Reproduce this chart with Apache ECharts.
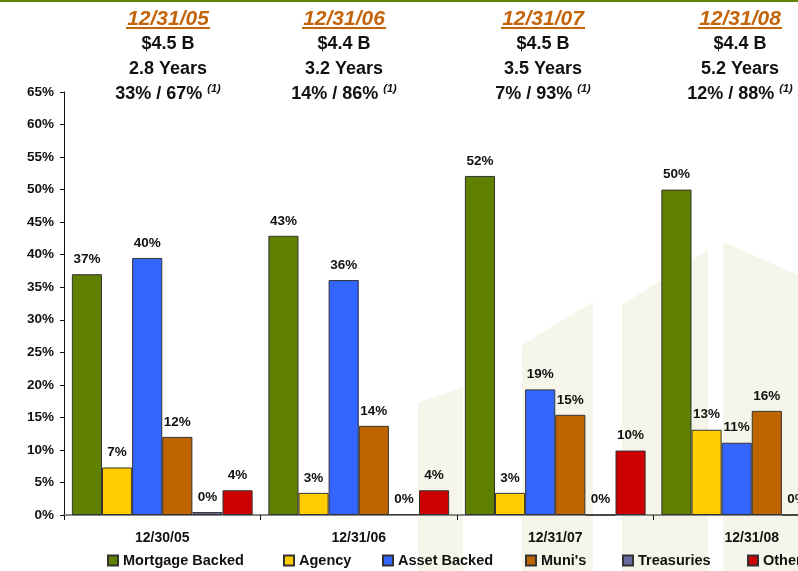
<!DOCTYPE html>
<html>
<head>
<meta charset="utf-8">
<script src="https://cdn.jsdelivr.net/npm/echarts@6/dist/echarts.min.js"></script>
<style>
  html, body { margin: 0; padding: 0; background: #fff; }
  #chart { width: 798px; height: 571px; }
</style>
</head>
<body>
<div id="chart"></div>
<script>
// data (bar heights in %)
const categories = ['12/30/05', '12/31/06', '12/31/07', '12/31/08'];
const mortgageBacked = [37.0, 42.9, 52.1, 50.0];
const agency = [7.3, 3.4, 3.4, 13.1];
const assetBacked = [39.5, 36.1, 19.3, 11.1];
const munis = [12.0, 13.7, 15.4, 16.0];
const treasuries = [0.45, 0.15, 0, 0];
const other = [3.8, 3.8, 9.9, 10.0];

// header block above each group
const headerDates = ['12/31/05', '12/31/06', '12/31/07', '12/31/08'];
const headerAmounts = ['$4.5 B', '$4.4 B', '$4.5 B', '$4.4 B'];
const headerYears = ['2.8 Years', '3.2 Years', '3.5 Years', '5.2 Years'];
const headerSplit = ['33% / 67%', '14% / 86%', '7% / 93%', '12% / 88%'];

const font = 'Liberation Sans, Arial, sans-serif';
const headerX = [168, 344, 543, 740];
const legendX = [107, 283, 382, 525, 622, 747];

const seriesDefs = [
	{ name: 'Mortgage Backed', data: mortgageBacked, color: '#5f8000' },
	{ name: 'Agency', data: agency, color: '#ffcc00' },
	{ name: 'Asset Backed', data: assetBacked, color: '#3366ff' },
	{ name: "Muni's", data: munis, color: '#bf6500' },
	{ name: 'Treasuries', data: treasuries, color: '#6a6a9e' },
	{ name: 'Other', data: other, color: '#cc0000' }
];

const graphics = [];
// faint watermark bands in the background
const bands = [
	[[418, 403], [463, 387], [463, 571], [418, 571]],
	[[522, 345], [593, 302], [593, 571], [522, 571]],
	[[622, 305], [708, 250], [708, 571], [622, 571]],
	[[723, 242], [798, 275], [798, 571], [723, 571]]
];
bands.forEach((pts) => {
	graphics.push({
		type: 'polygon', z: -10, silent: true,
		shape: { points: pts },
		style: { fill: '#f5f5e9' }
	});
});
// green rule at the top
graphics.push({
	type: 'rect', shape: { x: 0, y: 0, width: 798, height: 2 },
	style: { fill: '#5f8000' }
});

function headText(x, y, text, size, color, italic) {
	return {
		type: 'text', x: x, y: y,
		style: {
			text: text, align: 'center', verticalAlign: 'middle', fill: color,
			fontSize: size, fontWeight: 'bold', fontStyle: italic ? 'italic' : 'normal', fontFamily: font
		}
	};
}

headerDates.forEach((d, i) => {
	const x = headerX[i];
	graphics.push(headText(x, 19, d, 21, '#c4650c', true));
	graphics.push({
		type: 'rect', shape: { x: x - 42, y: 27, width: 84, height: 2 },
		style: { fill: '#c4650c' }
	});
	graphics.push(headText(x, 44, headerAmounts[i], 18, '#111', false));
	graphics.push(headText(x, 69, headerYears[i], 18, '#111', false));
	graphics.push({
		type: 'text', x: x, y: 94,
		style: {
			text: '{a|' + headerSplit[i] + ' }{s|(1)}',
			align: 'center', verticalAlign: 'middle', fill: '#111',
			rich: {
				a: { fontSize: 18, fontWeight: 'bold', fontFamily: font, fill: '#111', lineHeight: 22 },
				s: { fontSize: 11, fontWeight: 'bold', fontStyle: 'italic', fontFamily: font, fill: '#111',
					verticalAlign: 'top', lineHeight: 22 }
			}
		}
	});
});

const chart = echarts.init(document.getElementById('chart'));

const option = {
	backgroundColor: '#fff',
	animation: false,
	graphic: graphics,
	grid: { left: 64, top: 92, right: -52, bottom: 56, outerBoundsMode: 'none' },
	legend: seriesDefs.map((s, i) => ({
		left: legendX[i], top: 553, padding: 0,
		itemWidth: 10, itemHeight: 10,
		textStyle: { fontFamily: font, fontSize: 14.5, fontWeight: 'bold', color: '#111' },
		data: [{ name: s.name, icon: 'rect' }]
	})),
	xAxis: {
		type: 'category',
		data: categories,
		axisLine: { lineStyle: { color: '#888', width: 2 } },
		axisTick: { show: true, length: 5, lineStyle: { color: '#111' } },
		axisLabel: { margin: 16, fontFamily: font, fontSize: 14, fontWeight: 'bold', color: '#111' }
	},
	yAxis: {
		type: 'value',
		min: 0, max: 65, interval: 5,
		splitLine: { show: false },
		axisLine: { show: true, lineStyle: { color: '#111' } },
		axisTick: { show: true, length: 4, lineStyle: { color: '#111' } },
		axisLabel: { margin: 10, formatter: '{value}%', fontFamily: font, fontSize: 13.5,
			fontWeight: 'bold', color: '#111' }
	},
	series: seriesDefs.map((s) => ({
		name: s.name,
		type: 'bar',
		data: s.data,
		barGap: '0%',
		barCategoryGap: '8%',
		itemStyle: { color: s.color, borderColor: '#333', borderWidth: 1 },
		label: {
			show: true, position: 'top', distance: 8,
			formatter: (p) => Math.round(p.value) + '%',
			fontFamily: font, fontSize: 13.5, fontWeight: 'bold', color: '#111'
		}
	}))
};

chart.setOption(option);
</script>
</body>
</html>
